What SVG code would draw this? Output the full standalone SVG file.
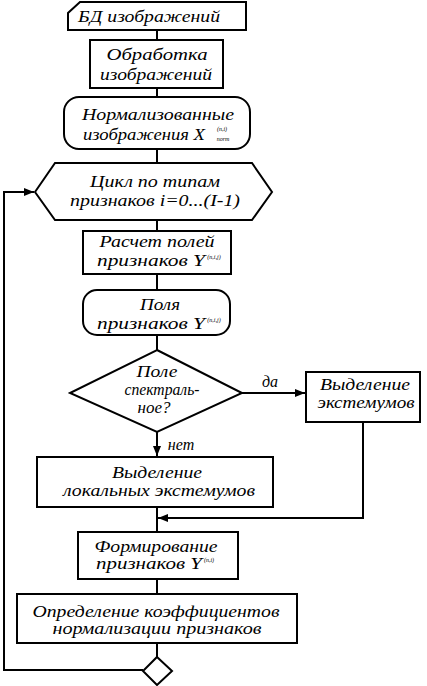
<svg xmlns="http://www.w3.org/2000/svg" width="427" height="686" viewBox="0 0 427 686">
<style>
.s{fill:#fff;stroke:#000;stroke-width:2}
.c{fill:none;stroke:#000;stroke-width:2}
text{font-family:"Liberation Serif","DejaVu Serif",serif;font-style:italic;font-size:16px;fill:#000;text-anchor:middle}
.sm{font-size:6px}
</style>
<defs>
<marker id="a" viewBox="0 0 10 8" refX="10" refY="4" markerWidth="10" markerHeight="8" markerUnits="userSpaceOnUse" orient="auto">
<path d="M0,0 L10,4 L0,8 Z" fill="#000"/>
</marker>
</defs>
<g id="connectors">
<line class="c" x1="157" y1="30" x2="157" y2="40"/>
<line class="c" x1="157" y1="88" x2="157" y2="97"/>
<line class="c" x1="157" y1="149" x2="157" y2="163"/>
<line class="c" x1="157" y1="220" x2="157" y2="231"/>
<line class="c" x1="157" y1="274" x2="157" y2="290"/>
<line class="c" x1="157" y1="335" x2="157" y2="350"/>
<line class="c" x1="242" y1="393" x2="305" y2="393" marker-end="url(#a)"/>
<line class="c" x1="157" y1="432" x2="157" y2="456" marker-end="url(#a)"/>
<polyline class="c" points="363,422 363,518 158,518" marker-end="url(#a)"/>
<line class="c" x1="157" y1="507" x2="157" y2="532"/>
<line class="c" x1="157" y1="579" x2="157" y2="594"/>
<line class="c" x1="157" y1="643" x2="157" y2="657"/>
<polyline class="c" points="143,670 4,670 4,192 34,192" marker-end="url(#a)"/>
<text x="270" y="387">да</text>
<text x="181" y="450">нет</text>
</g>
<g id="n1">
<path class="s" d="M80,2 L246,2 L246,30 L68,30 L68,13 Z"/>
<text x="149" y="22" textLength="142" lengthAdjust="spacingAndGlyphs">БД изображений</text>
</g>
<g id="n2">
<rect class="s" x="90" y="40" width="133" height="48"/>
<text x="157" y="60" textLength="101" lengthAdjust="spacingAndGlyphs">Обработка</text>
<text x="156" y="80" textLength="112" lengthAdjust="spacingAndGlyphs">изображений</text>
</g>
<g id="n3">
<rect class="s" x="64" y="97" width="186" height="52" rx="15"/>
<text x="158" y="120" textLength="152" lengthAdjust="spacingAndGlyphs">Нормализованные</text>
<text x="144" y="140" textLength="122" lengthAdjust="spacingAndGlyphs">изображения X</text>
<text class="sm" x="222" y="131">(n,i)</text>
<text class="sm" x="223" y="141">norm</text>
</g>
<g id="n4">
<polygon class="s" points="35,192 55,163 252,163 272,192 252,220 55,220"/>
<text x="155" y="187" textLength="130" lengthAdjust="spacingAndGlyphs">Цикл по типам</text>
<text x="155" y="206" textLength="170" lengthAdjust="spacingAndGlyphs">признаков i=0...(I-1)</text>
</g>
<g id="n5">
<rect class="s" x="83" y="231" width="148" height="43"/>
<text x="157" y="247" textLength="115" lengthAdjust="spacingAndGlyphs">Расчет полей</text>
<text x="151" y="266" textLength="108" lengthAdjust="spacingAndGlyphs">признаков Y</text>
<text class="sm" x="214" y="259">(n,i,j)</text>
</g>
<g id="n6">
<rect class="s" x="83" y="290" width="147" height="45" rx="14"/>
<text x="160" y="310" textLength="40" lengthAdjust="spacingAndGlyphs">Поля</text>
<text x="151" y="329" textLength="108" lengthAdjust="spacingAndGlyphs">признаков Y</text>
<text class="sm" x="214" y="322">(n,i,j)</text>
</g>
<g id="n7">
<polygon class="s" points="157,350 242,393 157,432 70,393"/>
<text x="157" y="377" textLength="41" lengthAdjust="spacingAndGlyphs">Поле</text>
<text x="162" y="395" textLength="75" lengthAdjust="spacingAndGlyphs">спектраль-</text>
<text x="154" y="413" textLength="33" lengthAdjust="spacingAndGlyphs">ное?</text>
</g>
<g id="n8">
<rect class="s" x="306" y="372" width="114" height="50"/>
<text x="365" y="390" textLength="90" lengthAdjust="spacingAndGlyphs">Выделение</text>
<text x="366" y="408" textLength="97" lengthAdjust="spacingAndGlyphs">экстемумов</text>
</g>
<g id="n9">
<rect class="s" x="37" y="457" width="236" height="50"/>
<text x="157" y="478" textLength="90" lengthAdjust="spacingAndGlyphs">Выделение</text>
<text x="159" y="496" textLength="192" lengthAdjust="spacingAndGlyphs">локальных экстемумов</text>
</g>
<g id="n10">
<rect class="s" x="78" y="532" width="160" height="47"/>
<text x="156" y="552" textLength="123" lengthAdjust="spacingAndGlyphs">Формирование</text>
<text x="149" y="569" textLength="106" lengthAdjust="spacingAndGlyphs">признаков Y</text>
<text class="sm" x="209" y="562">(n,i)</text>
</g>
<g id="n11">
<rect class="s" x="17" y="594" width="280" height="49"/>
<text x="156" y="617" textLength="247" lengthAdjust="spacingAndGlyphs">Определение коэффициентов</text>
<text x="157" y="634" textLength="209" lengthAdjust="spacingAndGlyphs">нормализации признаков</text>
</g>
<g id="n12">
<polygon class="s" points="157,657 172,671 157,685 143,671"/>
</g>
</svg>
